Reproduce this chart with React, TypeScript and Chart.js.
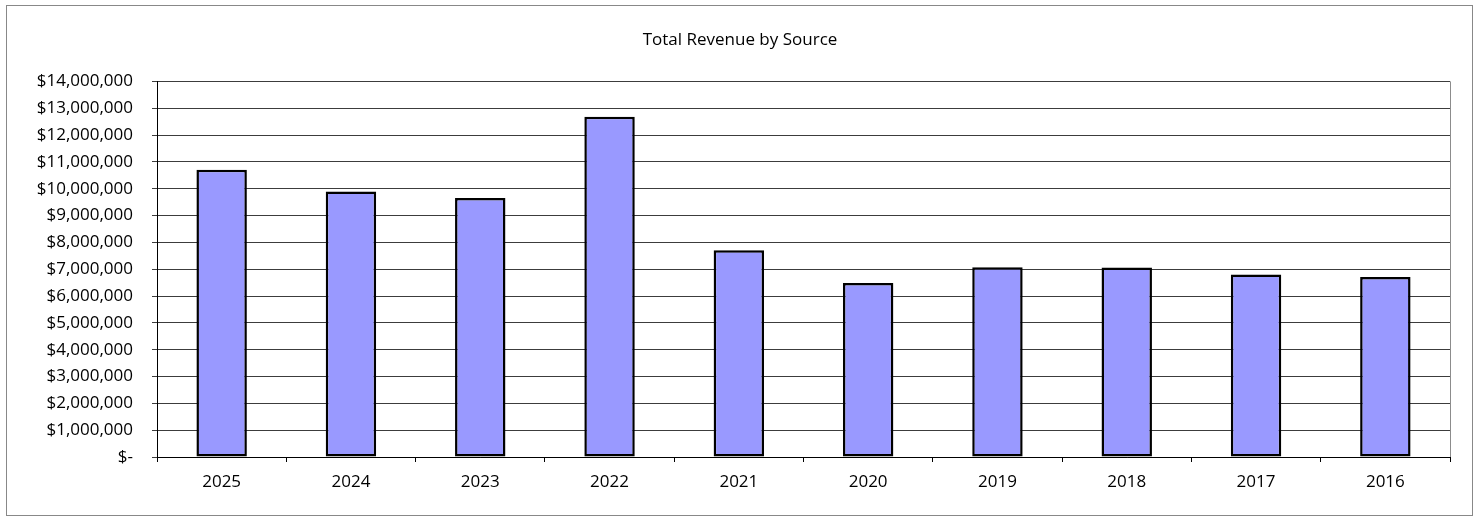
import React, { useEffect, useRef } from "react";
import { Chart, registerables } from "chart.js";

Chart.register(...registerables);

const TITLE = "Total Revenue by Source";
const CATEGORIES = ["2025", "2024", "2023", "2022", "2021", "2020", "2019", "2018", "2017", "2016"];
const REVENUE = [10710000, 9900000, 9650000, 12680000, 7710000, 6490000, 7070000, 7060000, 6800000, 6710000];
const Y_MIN = 0;
const Y_MAX = 14000000;
const Y_STEP = 1000000;

const FONT = "'Open Sans', 'Liberation Sans', sans-serif";

const borderPlugin = {
  id: "frame",
  afterDraw(chart: any) {
    const ctx = chart.ctx;
    const a = chart.chartArea;
    ctx.save();
    // outer chart border
    ctx.strokeStyle = "#888888";
    ctx.lineWidth = 1;
    ctx.strokeRect(6.5, 5.5, 1466, 510);
    // right plot-area border
    ctx.strokeStyle = "#8c8c8c";
    ctx.beginPath();
    ctx.moveTo(Math.round(a.right) + 0.5, a.top);
    ctx.lineTo(Math.round(a.right) + 0.5, a.bottom);
    ctx.stroke();
    ctx.restore();
  },
};

export default function App() {
  const ref = useRef<HTMLCanvasElement>(null);
  useEffect(() => {
    const canvas = ref.current;
    if (!canvas) return;
    const chart = new Chart(canvas, {
      type: "bar",
      data: {
        labels: CATEGORIES,
        datasets: [
          {
            label: "Revenue",
            data: REVENUE,
            backgroundColor: "#9999FF",
            borderColor: "#000000",
            borderWidth: 2.5,
            borderSkipped: false,
            barPercentage: 0.39,
            categoryPercentage: 1,
          },
        ],
      },
      options: {
        responsive: false,
        animation: false,
        layout: { padding: { left: 30, right: 33, top: 0, bottom: 0 } },
        plugins: {
          legend: { display: false },
          tooltip: { enabled: false },
          title: {
            display: true,
            text: TITLE,
            color: "#000000",
            font: { family: FONT, size: 17, weight: "normal" },
            padding: { top: 30, bottom: 31 },
          },
        },
        scales: {
          x: {
            offset: true,
            grid: {
              display: true,
              offset: true,
              drawOnChartArea: false,
              drawTicks: true,
              tickLength: 5,
              color: "#000000",
            },
            border: { display: true, color: "#000000", width: 1 },
            ticks: { color: "#000000", font: { family: FONT, size: 17 }, padding: 10 },
            afterFit(scale: any) {
              scale.height = 60;
            },
          },
          y: {
            min: Y_MIN,
            max: Y_MAX,
            grid: {
              color: "#3c3c3c",
              lineWidth: 1,
              drawTicks: true,
              tickLength: 5,
            },
            border: { display: true, color: "#000000", width: 1 },
            ticks: {
              stepSize: Y_STEP,
              color: "#000000",
              font: { family: FONT, size: 17 },
              padding: 19,
              callback: (v: any) => (Number(v) === 0 ? "$-" : "$" + Number(v).toLocaleString("en-US")),
            },
            afterFit(scale: any) {
              scale.width = 127;
            },
          },
        },
      },
      plugins: [borderPlugin],
    });
    return () => chart.destroy();
  }, []);
  return (
    <div style={{ position: "fixed", left: 0, top: 0, width: 1483, height: 517, background: "#fff" }}>
      <canvas ref={ref} width={1483} height={517} />
    </div>
  );
}
